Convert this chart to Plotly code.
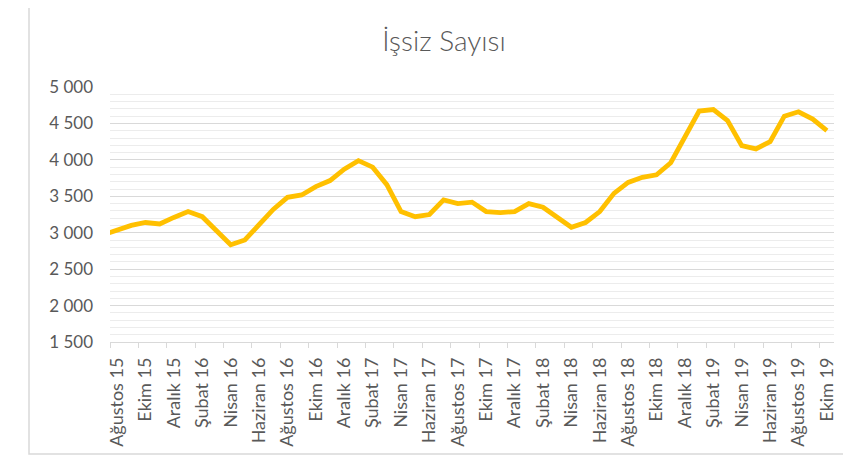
import plotly.graph_objects as go

# Monthly categories (first one only partly visible at the left edge)
months = ["Temmuz 15", "Ağustos 15", "Eylül 15", "Ekim 15", "Kasım 15", "Aralık 15",
          "Ocak 16", "Şubat 16", "Mart 16", "Nisan 16", "Mayıs 16", "Haziran 16",
          "Temmuz 16", "Ağustos 16", "Eylül 16", "Ekim 16", "Kasım 16", "Aralık 16",
          "Ocak 17", "Şubat 17", "Mart 17", "Nisan 17", "Mayıs 17", "Haziran 17",
          "Temmuz 17", "Ağustos 17", "Eylül 17", "Ekim 17", "Kasım 17", "Aralık 17",
          "Ocak 18", "Şubat 18", "Mart 18", "Nisan 18", "Mayıs 18", "Haziran 18",
          "Temmuz 18", "Ağustos 18", "Eylül 18", "Ekim 18", "Kasım 18", "Aralık 18",
          "Ocak 19", "Şubat 19", "Mart 19", "Nisan 19", "Mayıs 19", "Haziran 19",
          "Temmuz 19", "Ağustos 19", "Eylül 19", "Ekim 19"]

issiz = [2970, 3040, 3100, 3140, 3120, 3210, 3290, 3220, 3030, 2835, 2900, 3105,
         3320, 3486, 3518, 3633, 3716, 3872, 3990, 3900, 3660, 3290, 3220, 3250,
         3450, 3400, 3420, 3290, 3275, 3290, 3400, 3350, 3220, 3075, 3140, 3290,
         3540, 3690, 3760, 3795, 3960, 4300, 4670, 4690, 4540, 4195, 4150, 4250,
         4600, 4660, 4560, 4400]

y_range = [1500, 5000]
title_text = "İşsiz Sayısı"

idx = list(range(len(months)))
label_idx = idx[1::2]
label_text = [months[i] for i in label_idx]
tick_pos = [i - 0.5 for i in label_idx]

FONT = "Lato, Liberation Sans, sans-serif"
GREY = "#595959"

# page body has an 8px offset; the figure is sized to compensate
W, H = 843, 466
OFF = 8

fig = go.Figure()
fig.add_trace(go.Scatter(x=idx, y=issiz, mode="lines",
                         line=dict(color="#FFC000", width=4.8),
                         hoverinfo="y", showlegend=False))
# invisible trace to activate overlay axis for labels
fig.add_trace(go.Scatter(x=idx, y=issiz, xaxis="x2", mode="lines",
                         line=dict(width=0), hoverinfo="skip", showlegend=False))

pl, pr, pt, pb = 110 - OFF, 834 - OFF, 87 - OFF, 342 - OFF
pw, ph = pr - pl, pb - pt

fig.update_layout(
    width=W, height=H,
    margin=dict(l=pl, r=W - pr, t=pt, b=H - pb),
    paper_bgcolor="white", plot_bgcolor="white",
    separators=", ",
    title=dict(text=title_text, x=(444 - OFF) / W, xanchor="center",
               y=1 - (41 - OFF) / H, yanchor="middle",
               xref="container", yref="container",
               font=dict(family=FONT, size=28, color=GREY, weight=300)),
    xaxis=dict(range=[0.5, 51.5], showgrid=False, zeroline=False,
               tickmode="array", tickvals=tick_pos, showticklabels=False,
               ticks="outside", ticklen=5, tickcolor="#d9d9d9", tickwidth=1.3,
               showline=True, linecolor="#d9d9d9", linewidth=1.3),
    xaxis2=dict(range=[0.5, 51.5], overlaying="x", matches="x", side="bottom",
                anchor="y", showgrid=False, zeroline=False, showline=False,
                tickmode="array", tickvals=label_idx, ticktext=label_text,
                tickangle=-90, ticks="", ticklabelstandoff=11,
                tickfont=dict(family=FONT, size=18, color=GREY)),
    yaxis=dict(range=y_range, tickmode="linear", tick0=1500, dtick=500,
               tickformat=",d", showgrid=True, gridcolor="#d9d9d9", gridwidth=1.3,
               zeroline=False, showline=False, ticks="", ticklabelstandoff=16,
               tickfont=dict(family=FONT, size=17, color=GREY),
               minor=dict(dtick=100, showgrid=True, gridcolor="#ececec", gridwidth=1.3)),
    shapes=[dict(type="rect", xref="paper", yref="paper",
                 x0=(29 - 110) / pw, x1=(864 - 110) / pw,
                 y0=(342 - 454) / ph, y1=(342 - 0.8) / ph,
                 line=dict(color="#d9d9d9", width=1.5), fillcolor="rgba(0,0,0,0)",
                 layer="below")],
)

fig.write_html("out.html")
